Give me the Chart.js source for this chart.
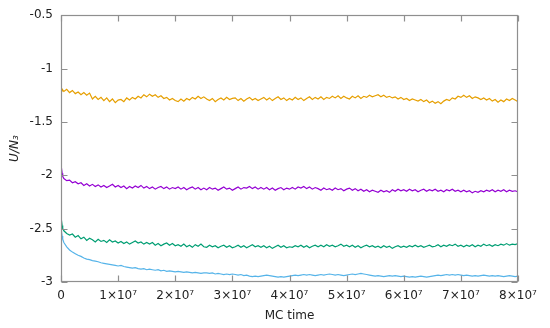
<!DOCTYPE html>
<html>
<head>
<meta charset="utf-8">
<script src="https://cdn.jsdelivr.net/npm/chart.js@4.4.1/dist/chart.umd.min.js"></script>
<style>
html,body{margin:0;padding:0;background:#fff;}
#c{display:block;}
</style>
</head>
<body>
<canvas id="c" width="550" height="328"></canvas>
<script>
// MC time in units of 10^6 steps
const mcTime = [0,0.05,0.1,0.2,0.3,
0.5,1,1.5,2,2.5,3,3.5,4,4.5,5,
5.5,6,6.5,7,7.5,8,8.5,9,9.5,10,
10.5,11,11.5,12,12.5,13,13.5,14,14.5,15,
15.5,16,16.5,17,17.5,18,18.5,19,19.5,20,
20.5,21,21.5,22,22.5,23,23.5,24,24.5,25,
25.5,26,26.5,27,27.5,28,28.5,29,29.5,30,
30.5,31,31.5,32,32.5,33,33.5,34,34.5,35,
35.5,36,36.5,37,37.5,38,38.5,39,39.5,40,
40.5,41,41.5,42,42.5,43,43.5,44,44.5,45,
45.5,46,46.5,47,47.5,48,48.5,49,49.5,50,
50.5,51,51.5,52,52.5,53,53.5,54,54.5,55,
55.5,56,56.5,57,57.5,58,58.5,59,59.5,60,
60.5,61,61.5,62,62.5,63,63.5,64,64.5,65,
65.5,66,66.5,67,67.5,68,68.5,69,69.5,70,
70.5,71,71.5,72,72.5,73,73.5,74,74.5,75,
75.5,76,76.5,77,77.5,78,78.5,79,79.5,80];

const orangeU = [-1.19,-1.20,-1.185,-1.21,-1.20,
-1.215,-1.195,-1.225,-1.205,-1.235,-1.22,-1.245,-1.225,-1.25,-1.23,
-1.285,-1.26,-1.29,-1.27,-1.30,-1.275,-1.31,-1.285,-1.32,-1.295,
-1.29,-1.31,-1.275,-1.295,-1.27,-1.285,-1.26,-1.275,-1.245,-1.265,
-1.24,-1.26,-1.245,-1.27,-1.255,-1.28,-1.27,-1.295,-1.28,-1.30,
-1.31,-1.285,-1.305,-1.28,-1.295,-1.27,-1.285,-1.26,-1.28,-1.265,
-1.285,-1.30,-1.28,-1.31,-1.29,-1.275,-1.295,-1.27,-1.29,-1.28,
-1.275,-1.30,-1.28,-1.305,-1.285,-1.27,-1.295,-1.28,-1.30,-1.285,
-1.27,-1.295,-1.275,-1.30,-1.28,-1.265,-1.29,-1.275,-1.30,-1.28,
-1.295,-1.27,-1.29,-1.275,-1.30,-1.28,-1.265,-1.29,-1.27,-1.285,
-1.265,-1.29,-1.27,-1.28,-1.26,-1.275,-1.255,-1.28,-1.26,-1.275,
-1.285,-1.26,-1.275,-1.255,-1.28,-1.26,-1.27,-1.25,-1.265,-1.255,
-1.245,-1.265,-1.25,-1.27,-1.26,-1.275,-1.265,-1.285,-1.27,-1.29,
-1.28,-1.30,-1.285,-1.295,-1.305,-1.29,-1.31,-1.295,-1.32,-1.305,
-1.325,-1.31,-1.33,-1.305,-1.29,-1.30,-1.275,-1.285,-1.26,-1.27,
-1.25,-1.27,-1.255,-1.28,-1.265,-1.275,-1.29,-1.275,-1.295,-1.28,
-1.305,-1.29,-1.315,-1.295,-1.31,-1.285,-1.30,-1.28,-1.295,-1.31];

const purpleU = [-1.74,-1.86,-1.93,-1.98,-2.01,
-2.03,-2.05,-2.045,-2.07,-2.06,-2.08,-2.07,-2.095,-2.08,-2.10,
-2.085,-2.105,-2.09,-2.11,-2.095,-2.115,-2.10,-2.085,-2.11,-2.095,
-2.115,-2.10,-2.125,-2.105,-2.12,-2.10,-2.115,-2.095,-2.12,-2.105,
-2.125,-2.11,-2.13,-2.115,-2.105,-2.125,-2.11,-2.13,-2.115,-2.125,
-2.11,-2.13,-2.115,-2.135,-2.12,-2.11,-2.13,-2.115,-2.135,-2.12,
-2.135,-2.115,-2.13,-2.12,-2.14,-2.125,-2.11,-2.13,-2.12,-2.14,
-2.125,-2.11,-2.13,-2.115,-2.12,-2.105,-2.125,-2.11,-2.13,-2.115,
-2.13,-2.115,-2.135,-2.12,-2.14,-2.125,-2.115,-2.135,-2.12,-2.13,
-2.115,-2.13,-2.11,-2.12,-2.105,-2.125,-2.11,-2.13,-2.115,-2.125,
-2.14,-2.12,-2.135,-2.125,-2.14,-2.12,-2.135,-2.125,-2.145,-2.13,
-2.12,-2.14,-2.125,-2.145,-2.13,-2.15,-2.135,-2.155,-2.14,-2.15,
-2.16,-2.14,-2.155,-2.145,-2.16,-2.135,-2.15,-2.13,-2.145,-2.135,
-2.15,-2.13,-2.145,-2.135,-2.155,-2.14,-2.13,-2.15,-2.135,-2.145,
-2.13,-2.15,-2.14,-2.155,-2.135,-2.145,-2.13,-2.15,-2.14,-2.155,
-2.14,-2.155,-2.145,-2.165,-2.15,-2.16,-2.145,-2.155,-2.14,-2.15,
-2.135,-2.155,-2.14,-2.15,-2.135,-2.155,-2.14,-2.15,-2.145,-2.155];

const greenU = [-2.05,-2.32,-2.42,-2.47,-2.50,
-2.52,-2.545,-2.56,-2.55,-2.58,-2.565,-2.595,-2.58,-2.61,-2.59,
-2.605,-2.625,-2.60,-2.62,-2.61,-2.63,-2.605,-2.625,-2.615,-2.635,
-2.62,-2.64,-2.625,-2.645,-2.63,-2.615,-2.635,-2.625,-2.645,-2.63,
-2.645,-2.63,-2.655,-2.64,-2.66,-2.645,-2.635,-2.655,-2.64,-2.66,
-2.65,-2.665,-2.645,-2.67,-2.655,-2.675,-2.65,-2.665,-2.645,-2.67,
-2.675,-2.655,-2.67,-2.66,-2.68,-2.665,-2.655,-2.675,-2.66,-2.68,
-2.67,-2.655,-2.675,-2.66,-2.68,-2.665,-2.65,-2.67,-2.66,-2.675,
-2.66,-2.68,-2.665,-2.685,-2.67,-2.655,-2.675,-2.66,-2.68,-2.67,
-2.675,-2.66,-2.67,-2.655,-2.675,-2.66,-2.68,-2.665,-2.655,-2.67,
-2.655,-2.67,-2.65,-2.665,-2.655,-2.67,-2.66,-2.645,-2.665,-2.655,
-2.67,-2.655,-2.675,-2.66,-2.68,-2.665,-2.655,-2.67,-2.66,-2.675,
-2.665,-2.68,-2.66,-2.675,-2.665,-2.685,-2.67,-2.66,-2.675,-2.665,
-2.675,-2.66,-2.67,-2.655,-2.67,-2.66,-2.675,-2.665,-2.655,-2.67,
-2.665,-2.65,-2.67,-2.655,-2.665,-2.65,-2.66,-2.645,-2.665,-2.655,
-2.67,-2.655,-2.665,-2.65,-2.67,-2.655,-2.665,-2.645,-2.66,-2.65,
-2.665,-2.65,-2.66,-2.645,-2.655,-2.64,-2.655,-2.645,-2.65,-2.64];

const blueU = [-2.30,-2.45,-2.52,-2.57,-2.60,
-2.63,-2.67,-2.70,-2.72,-2.735,-2.75,-2.76,-2.775,-2.785,-2.79,
-2.80,-2.805,-2.81,-2.82,-2.825,-2.83,-2.835,-2.84,-2.845,-2.85,
-2.845,-2.855,-2.86,-2.865,-2.87,-2.865,-2.875,-2.88,-2.875,-2.885,
-2.88,-2.885,-2.89,-2.885,-2.895,-2.89,-2.90,-2.895,-2.90,-2.905,
-2.90,-2.905,-2.91,-2.905,-2.91,-2.915,-2.91,-2.915,-2.92,-2.915,
-2.915,-2.92,-2.915,-2.925,-2.92,-2.925,-2.93,-2.925,-2.93,-2.925,
-2.93,-2.935,-2.93,-2.94,-2.935,-2.945,-2.95,-2.945,-2.95,-2.945,
-2.94,-2.935,-2.94,-2.945,-2.95,-2.955,-2.95,-2.955,-2.95,-2.945,
-2.94,-2.935,-2.94,-2.935,-2.93,-2.935,-2.93,-2.935,-2.94,-2.935,
-2.93,-2.935,-2.93,-2.925,-2.93,-2.935,-2.93,-2.935,-2.94,-2.935,
-2.93,-2.925,-2.93,-2.925,-2.92,-2.925,-2.93,-2.935,-2.94,-2.945,
-2.94,-2.945,-2.95,-2.945,-2.94,-2.945,-2.94,-2.945,-2.95,-2.945,
-2.95,-2.955,-2.95,-2.955,-2.95,-2.945,-2.95,-2.955,-2.95,-2.945,
-2.94,-2.935,-2.94,-2.935,-2.93,-2.935,-2.93,-2.935,-2.93,-2.935,
-2.94,-2.935,-2.94,-2.945,-2.94,-2.945,-2.94,-2.935,-2.94,-2.945,
-2.94,-2.945,-2.94,-2.945,-2.95,-2.945,-2.94,-2.945,-2.95,-2.945];

const xTickValues = [0,10,20,30,40,50,60,70,80];
const xTickLabels = ["0","1×10⁷","2×10⁷","3×10⁷","4×10⁷","5×10⁷","6×10⁷","7×10⁷","8×10⁷"];
const yTickValues = [-3,-2.5,-2,-1.5,-1,-0.5];
const yTickLabels = ["-3","-2.5","-2","-1.5","-1","-0.5"];

const seriesColors = ["#e69f00","#9400d3","#009e73","#56b4e9"];
const seriesData = [orangeU, purpleU, greenU, blueU];

const FONT = "'DejaVu Sans', sans-serif";

function toPoints(vals){ return vals.map((v,i)=>({x: mcTime[i], y: v})); }

const framePlugin = {
  id: 'frame',
  afterDraw(chart){
    const {ctx, chartArea:a, scales} = chart;
    const L = Math.round(a.left)+0.5, R = Math.round(a.right)-0.5;
    const T = Math.round(a.top)+0.5, B = Math.round(a.bottom)-0.5;
    ctx.save();
    ctx.strokeStyle = '#8f8f8f';
    ctx.lineWidth = 1.2;
    ctx.beginPath();
    const tl = 6;
    xTickValues.forEach(v=>{
      const px = Math.round(scales.x.getPixelForValue(v))+0.5;
      ctx.moveTo(px,B); ctx.lineTo(px,B-tl);
      ctx.moveTo(px,T); ctx.lineTo(px,T+tl);
    });
    yTickValues.forEach(v=>{
      const py = Math.round(scales.y.getPixelForValue(v))+0.5;
      ctx.moveTo(L,py); ctx.lineTo(L+tl,py);
      ctx.moveTo(R,py); ctx.lineTo(R-tl,py);
    });
    ctx.stroke();
    ctx.strokeRect(L,T,R-L,B-T);
    ctx.restore();
  }
};

new Chart(document.getElementById('c'), {
  type: 'line',
  data: {
    datasets: seriesData.map((d,i)=>({
      data: toPoints(d),
      borderColor: seriesColors[i],
      borderWidth: 1.2,
      pointRadius: 0,
      fill: false,
      tension: 0
    }))
  },
  options: {
    responsive: false,
    animation: false,
    devicePixelRatio: 1,
    layout: { padding: { top: 15, right: 32, left: 0, bottom: 0 } },
    plugins: { legend: { display: false }, tooltip: { enabled: false } },
    scales: {
      x: {
        type: 'linear', min: 0, max: 80,
        afterBuildTicks(scale){ scale.ticks = xTickValues.map(v=>({value:v})); },
        afterFit(scale){ scale.height = 46; },
        grid: { display: false, drawTicks: false },
        border: { display: false },
        ticks: {
          padding: 7, color: '#222', maxRotation: 0, autoSkip: false,
          font: { family: FONT, size: 12 },
          callback(v){ const i = xTickValues.indexOf(v); return i>=0 ? xTickLabels[i] : ''; }
        },
        title: { display: true, text: 'MC time', color: '#222',
          font: { family: FONT, size: 12 }, padding: { top: 0, bottom: 5 } }
      },
      y: {
        type: 'linear', min: -3, max: -0.5,
        afterBuildTicks(scale){ scale.ticks = yTickValues.map(v=>({value:v})); },
        afterFit(scale){ scale.width = 61; },
        grid: { display: false, drawTicks: false },
        border: { display: false },
        ticks: {
          padding: 8, color: '#222', autoSkip: false,
          font: { family: FONT, size: 12 },
          callback(v){ const i = yTickValues.indexOf(v); return i>=0 ? yTickLabels[i] : ''; }
        },
        title: { display: true, text: 'U/N₃', color: '#222',
          font: { family: FONT, size: 12, style: 'italic' }, padding: { top: 8, bottom: 0 } }
      }
    }
  },
  plugins: [framePlugin]
});
</script>
</body>
</html>
